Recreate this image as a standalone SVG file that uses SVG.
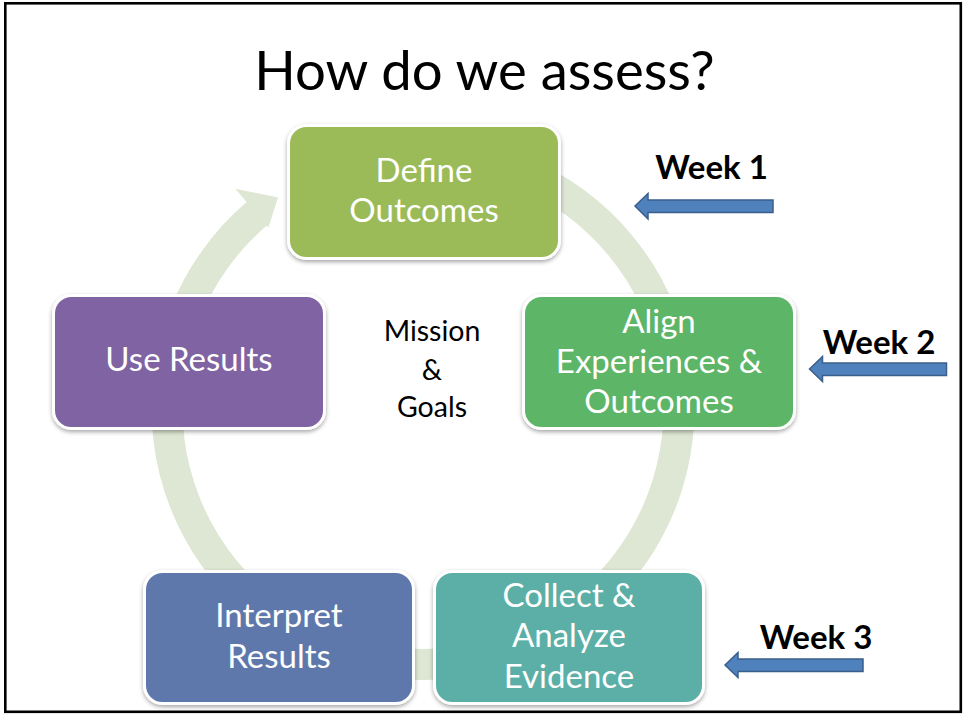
<svg xmlns="http://www.w3.org/2000/svg" width="963" height="721" viewBox="0 0 963 721">
<defs>
<filter id="sh" x="-10%" y="-10%" width="120%" height="125%">
<feDropShadow dx="0" dy="2" stdDeviation="2" flood-color="#000" flood-opacity="0.35"/>
</filter>
<style>
.box{stroke:#fff;stroke-width:3;filter:url(#sh)}
.lbl{font-family:Lato,"Open Sans","Liberation Sans",sans-serif;font-size:33px;fill:#fff;text-anchor:middle}
.blk{font-family:Lato,"Open Sans","Liberation Sans",sans-serif;fill:#000;text-anchor:middle}
.wk{font-family:Lato,"Open Sans","Liberation Sans",sans-serif;font-weight:bold;font-size:33px;fill:#000;text-anchor:middle}
.arr{fill:#4F81BD;stroke:#3A5F8C;stroke-width:1.5}
</style>
</defs>
<rect x="0" y="0" width="963" height="721" fill="#fff"/>
<rect x="5.3" y="3.3" width="955.5" height="708.5" fill="none" stroke="#000" stroke-width="2.6"/>
<text class="blk" x="484.5" y="90" font-size="54.5">How do we assess?</text>
<g id="connectors">
<path d="M330.14,153.37 A271.5,271.5 0 1 1 246.67,202.05 L235.3,188.7 L278.0,197.5 L268.4,227.5 L266.81,225.62 A240.5,240.5 0 1 0 340.74,182.50 Z" fill="#DDE7D3"/>
</g>
<g id="center">
<text class="blk" font-size="28.5" x="432" y="341">Mission</text>
<text class="blk" font-size="28.5" x="432" y="380">&amp;</text>
<text class="blk" font-size="28.5" x="432" y="417">Goals</text>
</g>
<g id="define">
<rect class="box" x="288.5" y="125.5" width="271" height="133" rx="18" fill="#9BBB59"/>
<text class="lbl" x="424" y="182">Define</text>
<text class="lbl" x="424" y="222">Outcomes</text>
</g>
<g id="align">
<rect class="box" x="523.5" y="295.5" width="271" height="133" rx="18" fill="#5DB567"/>
<text class="lbl" x="659" y="333">Align</text>
<text class="lbl" x="659" y="373">Experiences &amp;</text>
<text class="lbl" x="659" y="413">Outcomes</text>
</g>
<g id="collect">
<rect class="box" x="434.5" y="571.5" width="269" height="132" rx="18" fill="#5BAFA6"/>
<text class="lbl" x="569" y="607">Collect &amp;</text>
<text class="lbl" x="569" y="647">Analyze</text>
<text class="lbl" x="569" y="688">Evidence</text>
</g>
<g id="interpret">
<rect class="box" x="144.5" y="571.5" width="269" height="132" rx="18" fill="#5F78AB"/>
<text class="lbl" x="279" y="627">Interpret</text>
<text class="lbl" x="279" y="668">Results</text>
</g>
<g id="use">
<rect class="box" x="53.5" y="295.5" width="271" height="133" rx="18" fill="#8064A2"/>
<text class="lbl" x="189" y="371">Use Results</text>
</g>
<g id="week1">
<text class="wk" x="711.5" y="179">Week 1</text>
<path class="arr" d="M635,206 L648,193.5 L648,200 L773,200 L773,212.5 L648,212.5 L648,219 Z"/>
</g>
<g id="week2">
<text class="wk" x="879" y="354">Week 2</text>
<path class="arr" d="M809.5,369 L822.5,356.5 L822.5,363 L946.5,363 L946.5,375.5 L822.5,375.5 L822.5,381.5 Z"/>
</g>
<g id="week3">
<text class="wk" x="816" y="649">Week 3</text>
<path class="arr" d="M725,665 L738,652.5 L738,659 L863,659 L863,671.5 L738,671.5 L738,677.5 Z"/>
</g>
</svg>
